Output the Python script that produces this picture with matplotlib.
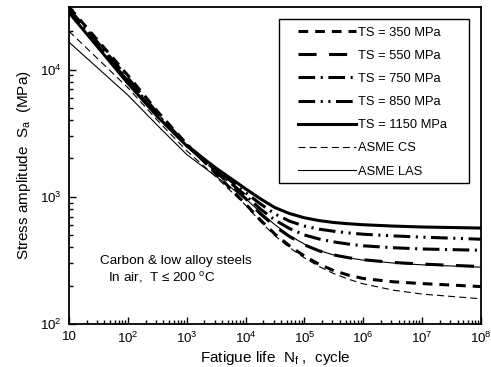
import matplotlib
matplotlib.use('Agg')
import matplotlib.pyplot as plt
from matplotlib.patches import Rectangle
import numpy as np

plt.rcParams['font.family'] = ['Liberation Sans', 'DejaVu Sans']
plt.rcParams['mathtext.fontset'] = 'custom'
plt.rcParams['mathtext.rm'] = 'Liberation Sans'
plt.rcParams['mathtext.it'] = 'Liberation Sans:italic'
plt.rcParams['lines.scale_dashes'] = False

# fatigue life (cycles) and stress amplitude (MPa)
cycles = [10, 1e2, 316, 1e3, 3162, 1e4, 17783, 31623, 56234, 1e5, 177828,
          316228, 562341, 1e6, 3162278, 1e7, 1e8]
ts350 = [31000, 9000, 4700, 2600, 1514, 879, 659, 509, 411, 342, 295, 263, 242, 228, 215, 208, 197]
ts550 = [30000, 8600, 4550, 2530, 1567, 970, 736, 585, 486, 419, 376, 349, 332, 320, 305, 296, 283]
ts750 = [29500, 8300, 4450, 2550, 1603, 1023, 803, 656, 562, 501, 466, 442, 425, 412, 398, 389, 380]
ts850 = [29000, 8100, 4400, 2570, 1641, 1079, 881, 733, 643, 589, 557, 536, 520, 508, 493, 482, 464]
ts1150 = [28000, 7800, 4285, 2512, 1679, 1156, 966, 822, 738, 684, 650, 628, 614, 603, 589, 579, 568]
asme_cs = [20000, 7200, 4000, 2300, 1429, 859, 640, 494, 398, 331, 283, 249, 225, 207, 185, 172, 158]
asme_las = [16400, 6300, 3650, 2150, 1445, 966, 759, 603, 495, 425, 378, 349, 331, 318, 302, 292, 280]

labels = ['TS = 350 MPa', 'TS = 550 MPa', 'TS = 750 MPa', 'TS = 850 MPa',
          'TS = 1150 MPa', 'ASME CS', 'ASME LAS']
series = [ts350, ts550, ts750, ts850, ts1150, asme_cs, asme_las]
styles = [
    (2.2, (0, (7, 5))),
    (2.2, (0, (13, 9))),
    (2.2, (0, (12, 4, 1.5, 4))),
    (2.2, (0, (12, 4, 1.5, 4, 1.5, 4))),
    (2.2, '-'),
    (0.8, (0, (5, 3))),
    (0.8, '-'),
]

fig = plt.figure(figsize=(4.91, 3.67), dpi=100)
ax = fig.add_axes([0.1405, 0.117, 0.839, 0.864])

for vals, lab, (lw, ls) in zip(series, labels, styles):
    ax.plot(cycles, vals, color='black', lw=lw, linestyle=ls, label=lab)

ax.set_xscale('log')
ax.set_yscale('log')
ax.set_xlim(10, 1e8)
ax.set_ylim(100, 31000)

xt = [10, 1e2, 1e3, 1e4, 1e5, 1e6, 1e7, 1e8]
xtl = ['10', '$10^2$', '$10^3$', '$10^4$', '$10^5$', '$10^6$', '$10^7$', '$10^8$']
ax.set_xticks(xt)
ax.set_xticklabels(xtl)
ax.set_yticks([1e2, 1e3, 1e4])
ax.set_yticklabels(['$10^2$', '$10^3$', '$10^4$'])
ax.xaxis.set_minor_locator(matplotlib.ticker.LogLocator(subs=np.arange(2, 10), numticks=20))
ax.yaxis.set_minor_locator(matplotlib.ticker.LogLocator(subs=np.arange(2, 10), numticks=20))
ax.xaxis.set_minor_formatter(matplotlib.ticker.NullFormatter())
ax.yaxis.set_minor_formatter(matplotlib.ticker.NullFormatter())
ax.tick_params(which='both', direction='in', top=False, right=False,
               labelsize=9.5, width=1)
ax.tick_params(which='major', length=5, pad=5)
ax.tick_params(which='minor', length=3)
for sp in ax.spines.values():
    sp.set_linewidth(1.3)

ax.set_xlabel('Fatigue life  N$_\\mathrm{f}$ ,  cycle', fontsize=11, labelpad=2)
ax.set_ylabel('Stress amplitude  S$_\\mathrm{a}$  (MPa)', fontsize=11, labelpad=5)

ax.text(0.075, 0.19, 'Carbon & low alloy steels', transform=ax.transAxes,
        fontsize=9.7)
ax.text(0.095, 0.135, 'In air,  T \u2264 200 $^\\mathrm{o}$C', transform=ax.transAxes,
        fontsize=9.7)

leg = ax.legend(loc='upper left', bbox_to_anchor=(0.556, 0.938),
                fontsize=9.3, handlelength=4.5, handletextpad=0.15,
                labelspacing=0.86, borderpad=0, borderaxespad=0,
                frameon=False)
ax.add_patch(Rectangle((0.5097, 0.445), 0.4613, 0.517, transform=ax.transAxes,
                       fill=False, edgecolor='black', lw=1.0, zorder=5))

plt.savefig('out.png', dpi=100)
